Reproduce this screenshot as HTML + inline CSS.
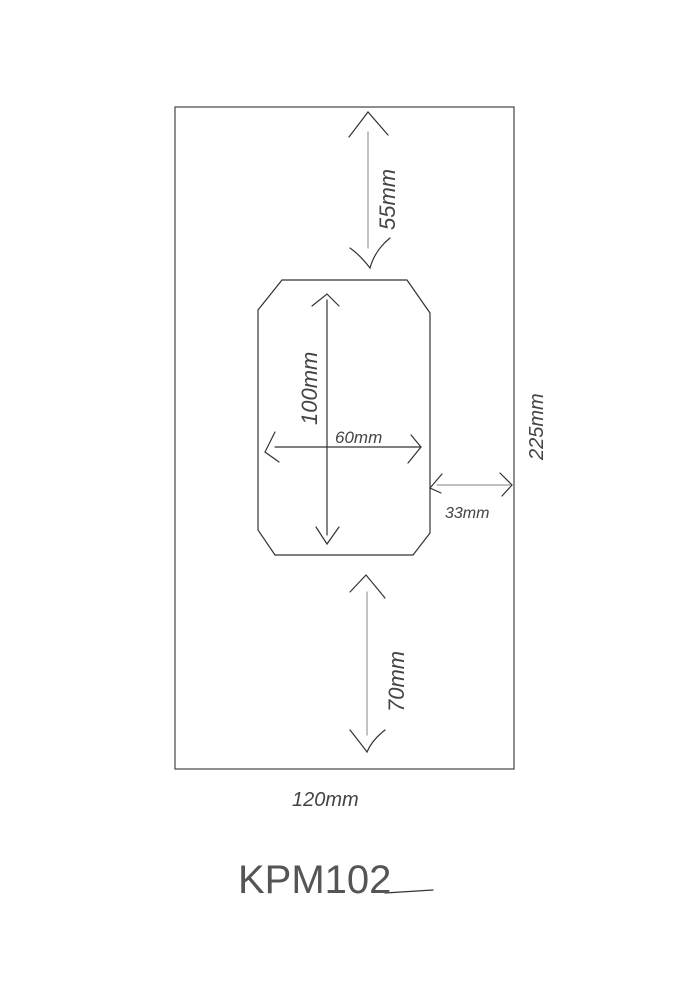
<!DOCTYPE html>
<html><head><style>html,body{margin:0;padding:0;background:#fff}svg{display:block}</style></head>
<body>
<svg width="689" height="1000" viewBox="0 0 689 1000" xmlns="http://www.w3.org/2000/svg">
<g fill="none" stroke="#333" stroke-width="1.2" stroke-linecap="round">
<rect x="175" y="107" width="339" height="662" stroke="#444"/>
<polygon points="282,280 407,280 430,313 430,533 413,555 275,555 258,530 258,310"/>
<line x1="368" y1="132" x2="368" y2="248" stroke="#999"/>
<path d="M349,137 L368,112 L388,135"/>
<path d="M390,238 Q375,250 370,268 Q360,255 350,248"/>
<line x1="327" y1="300" x2="327" y2="535"/>
<path d="M312,306 L327,294 L339,306"/>
<path d="M316,527 L327,544 L339,527"/>
<line x1="275" y1="447" x2="421" y2="447"/>
<path d="M275,432 L265,452 L279,462"/>
<path d="M411,435 L421,447 L408,463"/>
<line x1="437" y1="485" x2="510" y2="485" stroke="#999"/>
<path d="M442,474 L430,488 L441,493"/>
<path d="M500,473 L512,485 L502,496"/>
<line x1="367" y1="592" x2="367" y2="735" stroke="#999"/>
<path d="M350,592 L366,575 L385,598"/>
<path d="M385,730 Q372,740 367,752 Q358,740 350,730"/>
<line x1="433" y1="890" x2="385" y2="893" />
</g>
<g font-family="Liberation Sans, sans-serif" fill="#444" font-style="italic">
<text transform="translate(395,230) rotate(-90)" font-size="22">55mm</text>
<text transform="translate(317,425) rotate(-90)" font-size="22">100mm</text>
<text x="335" y="443" font-size="17">60mm</text>
<text x="445" y="518" font-size="16">33mm</text>
<text transform="translate(543,460) rotate(-90)" font-size="20">225mm</text>
<text transform="translate(404,712) rotate(-90)" font-size="22">70mm</text>
<text x="292" y="806" font-size="20">120mm</text>
<text x="238" y="893" font-size="40" font-style="normal" fill="#555">KPM102</text>
</g>
</svg>
</body></html>
